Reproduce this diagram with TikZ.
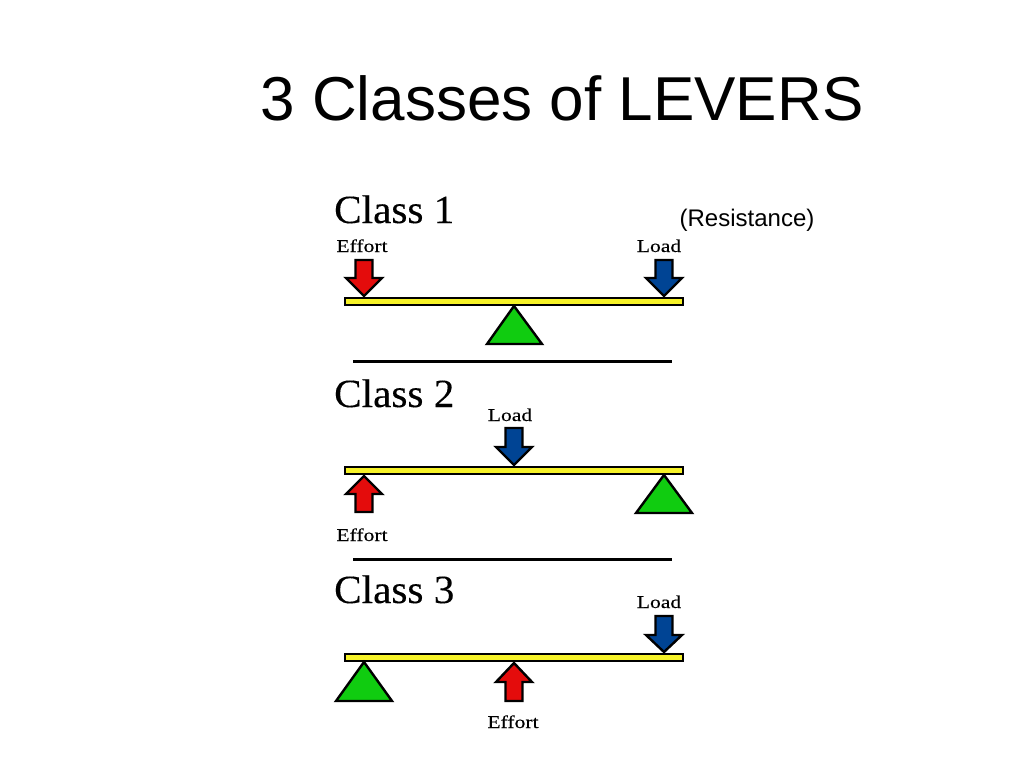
\documentclass[tikz,border=0pt]{standalone}
\usepackage{fontspec}
\setmainfont{Liberation Serif}
\newfontfamily\arialf{Liberation Sans}
\newfontfamily\labelf[FakeStretch=1.2,FakeBold=0.3]{Liberation Serif}
\newfontfamily\classf[FakeStretch=1.03,FakeBold=0.2]{Liberation Serif}
\definecolor{effortred}{RGB}{228,12,12}
\definecolor{loadblue}{RGB}{0,68,148}
\definecolor{fulcrumgreen}{RGB}{16,204,16}
\definecolor{beamyellow}{RGB}{246,242,40}
\newcommand{\forcedown}[6]{% cx top headstart tip color name
  \filldraw[forceshape,fill=#5] (#1-8.5,#2) -- (#1+8.5,#2) -- (#1+8.5,#3) -- (#1+18,#3) -- (#1,#4) -- (#1-18,#3) -- (#1-8.5,#3) -- cycle;
  \coordinate (#6) at (#1,#4);}
\tikzset{
  forceshape/.style={draw=black,line width=2.4pt,line join=miter},
  beamshape/.style={draw=black,fill=beamyellow,line width=2.8pt},
  fulcrumshape/.style={draw=black,fill=fulcrumgreen,line width=2.4pt,line join=miter},
  sepline/.style={draw=black,line width=3pt},
  classlabel/.style={anchor=base west,inner sep=0pt,font=\classf\fontsize{40}{44}\selectfont},
  smalllabel/.style={anchor=base,inner sep=0pt,font=\labelf\fontsize{18}{20}\selectfont},
}
\begin{document}
\begin{tikzpicture}[x=1pt,y=-1pt]
\useasboundingbox[fill=white] (0,0) rectangle (1024,768);
% title
\node[anchor=base,inner sep=0pt,font=\arialf\fontsize{62}{66}\selectfont] (title) at (562,120) {3 Classes of LEVERS};
\node[anchor=base,inner sep=0pt,font=\arialf\fontsize{24}{28}\selectfont] (resist) at (747,226) {(Resistance)};

% ---------- Class 1
\node[classlabel] (c1) at (334,223) {Class 1};
\node[smalllabel] (c1e) at (362,252) {Effort};
\node[smalllabel] (c1l) at (659,252) {Load};
\forcedown{364}{260}{278}{296}{effortred}{c1et}
\forcedown{664}{260}{278}{296}{loadblue}{c1lt}
\draw[beamshape] (345,298) rectangle (683,305);
\filldraw[fulcrumshape] (514,306) -- (542,344) -- (487,344) -- cycle;
\draw[sepline] (353,361) -- (672,361);

% ---------- Class 2
\node[classlabel] (c2) at (334,407) {Class 2};
\node[smalllabel] (c2l) at (510,421) {Load};
\forcedown{514}{428}{447}{465}{loadblue}{c2lt}
\draw[beamshape] (345,467) rectangle (683,474);
\forcedown{364}{512}{494}{476}{effortred}{c2et}
\filldraw[fulcrumshape] (664,475) -- (692,513) -- (636,513) -- cycle;
\node[smalllabel] (c2e) at (362,541) {Effort};
\draw[sepline] (353,559) -- (672,559);

% ---------- Class 3
\node[classlabel] (c3) at (334,603) {Class 3};
\node[smalllabel] (c3l) at (659,608) {Load};
\forcedown{664}{616}{635}{652}{loadblue}{c3lt}
\draw[beamshape] (345,654) rectangle (683,661);
\filldraw[fulcrumshape] (364,662) -- (392,701) -- (336,701) -- cycle;
\forcedown{514}{701}{682}{663}{effortred}{c3et}
\node[smalllabel] (c3e) at (513,728) {Effort};
\end{tikzpicture}
\end{document}
